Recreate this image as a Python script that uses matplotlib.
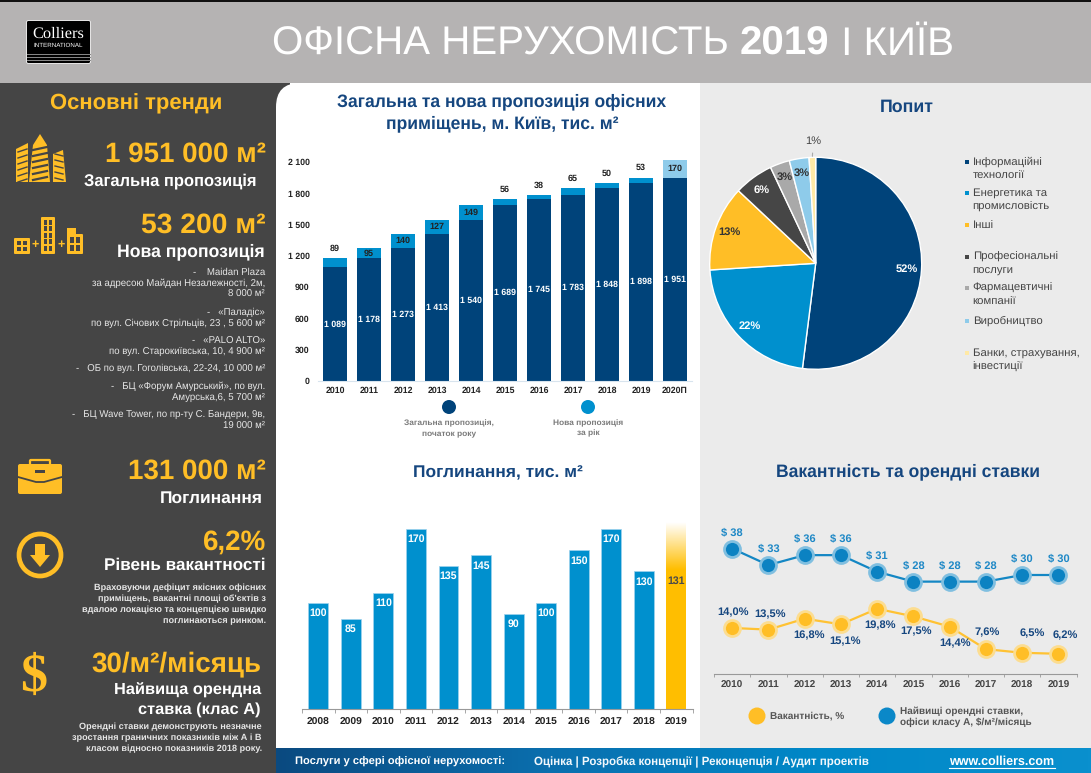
import numpy as np
import matplotlib
matplotlib.use("Agg")
import matplotlib.pyplot as plt
from matplotlib.colors import LinearSegmentedColormap
from matplotlib.patches import Rectangle, Circle, Polygon, FancyBboxPatch

W, H = 1091, 773

NAVY = "#00437A"
BLUE = "#0090CE"
LIGHT_BLUE = "#8ECBEA"
YELLOW = "#FFBE26"
DARK = "#454545"
TITLE = "#15467F"

# supply chart
supply_years = ["2010", "2011", "2012", "2013", "2014", "2015", "2016", "2017", "2018", "2019", "2020П"]
supply_total = [1089, 1178, 1273, 1413, 1540, 1689, 1745, 1783, 1848, 1898, 1951]
supply_new = [89, 95, 140, 127, 149, 56, 38, 65, 50, 53, 170]
supply_ticks = [0, 300, 600, 900, 1200, 1500, 1800, 2100]
supply_ticklabels = ["0", "300", "600", "900", "1 200", "1 500", "1 800", "2 100"]

# demand pie
demand_labels = ["Інформаційні\nтехнології", "Енергетика та\nпромисловість", "Інші",
                 "Професіональні\nпослуги", "Фармацевтичні\nкомпанії", "Виробництво",
                 "Банки, страхування,\nінвестиції"]
demand_share = [52, 22, 13, 6, 3, 3, 1]
demand_colors = [NAVY, BLUE, YELLOW, "#464646", "#A9A9A9", LIGHT_BLUE, "#FFE9A6"]
demand_text = ["white", "white", "#333333", "white", "#333333", "#333333", "#333333"]

# absorption
absorb_years = ["2008", "2009", "2010", "2011", "2012", "2013", "2014", "2015", "2016", "2017", "2018", "2019"]
absorb_values = [100, 85, 110, 170, 135, 145, 90, 100, 150, 170, 130, 131]

# vacancy and rents
rate_years = ["2010", "2011", "2012", "2013", "2014", "2015", "2016", "2017", "2018", "2019"]
vacancy = [14.0, 13.5, 16.8, 15.1, 19.8, 17.5, 14.4, 7.6, 6.5, 6.2]
rent = [38, 33, 36, 36, 31, 28, 28, 28, 30, 30]

plt.rcParams["font.family"] = ["Liberation Sans", "DejaVu Sans"]
plt.rcParams["text.hinting"] = "no_hinting"

fig = plt.figure(figsize=(W / 100, H / 100), dpi=100)


def px_axes(x0, y0, x1, y1):
    ax = fig.add_axes([x0 / W, 1 - y1 / H, (x1 - x0) / W, (y1 - y0) / H])
    ax.patch.set_alpha(0)
    return ax


# full page layer in pixel coordinates, y going down
bg = fig.add_axes([0, 0, 1, 1], zorder=0)
bg.set_xlim(0, W)
bg.set_ylim(H, 0)
bg.axis("off")

bg.add_patch(Rectangle((0, 0), W, 83, color="#B5B3B3", lw=0))
bg.add_patch(Rectangle((0, 0), W, 2, color="#111111", lw=0))
bg.add_patch(Rectangle((0, 83), 290, H - 83, color=DARK, lw=0))
bg.add_patch(Rectangle((700, 83), W - 700, 670, color="#EBEBEB", lw=0))
bg.add_patch(FancyBboxPatch((276 + 24, 83 + 24), 410, 660, boxstyle="round,pad=24,rounding_size=24",
                            fc="white", ec="none"))
bg.add_patch(Rectangle((700, 83), W - 700, 670, color="#EBEBEB", lw=0))

footer_cmap = LinearSegmentedColormap.from_list("footer", ["#0B4A80", "#0A6FAE", "#0088C8", "#0A90CE"])
bg.imshow(np.linspace(0, 1, 256).reshape(1, -1), cmap=footer_cmap, extent=(276, W, H, 748), aspect="auto", zorder=2)
bg.set_xlim(0, W)
bg.set_ylim(H, 0)


def label(x, y, s, size, color="white", weight="bold", ha="right", **kw):
    return bg.text(x, y, s, fontsize=size, color=color, fontweight=weight, ha=ha, va="center", zorder=5, **kw)


# logo
bg.add_patch(FancyBboxPatch((27, 21), 63, 42, boxstyle="round,pad=0.5,rounding_size=2", fc="black", ec="white", lw=0.6, zorder=3))
label(58, 34, "Colliers", 11.8, ha="center", family="Liberation Serif", weight="normal")
label(58, 45, "INTERNATIONAL", 4.5, ha="center", weight="normal")
for y in (54, 57, 60):
    bg.plot([27, 90], [y, y], color="#8a8a8a", lw=0.7, zorder=4)

# header, three runs one after another
x = 272
fig.canvas.draw()
rend = fig.canvas.get_renderer()
inv = bg.transData.inverted()
for s, w in (("ОФІСНА НЕРУХОМІСТЬ ", "normal"), ("2019", "bold"), (" І КИЇВ", "normal")):
    t = bg.text(x, 55, s.replace(" ", "\u00a0"), fontsize=29, color="white", fontweight=w, ha="left", va="baseline", zorder=5)
    box = t.get_window_extent(rend)
    x = inv.transform((box.x1, box.y0))[0]

# left column
label(136, 104, "Основні тренди", 15.8, color=YELLOW, ha="center")
label(266, 154, "1 951 000 м²", 20, color=YELLOW)
label(257, 181, "Загальна пропозиція", 11.9)
label(266, 225, "53 200 м²", 20.3, color=YELLOW)
label(265, 252, "Нова пропозиція", 12.7)

news = [(272, "-    Maidan Plaza"), (283, "за адресою Майдан Незалежності, 2м,"), (294, "8 000 м²"),
        (312, "-   «Паладіс»"), (323, "по вул. Січових Стрільців, 23 , 5 600 м²"),
        (341, "-   «PALO ALTO»"), (352, "по вул. Старокиївська, 10, 4 900 м²"),
        (368, "-   ОБ по вул. Гоголівська, 22-24, 10 000 м²"),
        (386, "-   БЦ «Форум Амурський», по вул."), (398, "Амурська,6, 5 700 м²"),
        (415, "-   БЦ Wave Tower, по пр-ту С. Бандери, 9в,"), (426, "19 000 м²")]
for y, s in news:
    label(265, y, s, 6.9, color="#E6E6E6", weight="normal")

label(266, 471, "131 000 м²", 20, color=YELLOW)
label(263, 498, "Поглинання", 12.5)
label(266, 542, "6,2%", 20, color=YELLOW)
label(266, 565, "Рівень вакантності", 12.3)
for y, s in ((588, "Враховуючи дефіцит якісних офісних"), (599, "приміщень, вакантні площі об'єктів з"),
             (610, "вдалою локацією та концепцією швидко"), (621, "поглинаються ринком.")):
    label(266, y, s, 6.6, color="#E6E6E6")
label(261, 664, "30/м²/місяць", 20, color=YELLOW)
label(261, 690, "Найвища орендна", 11.8)
label(261, 710, "ставка (клас А)", 11.8)
for y, s in ((727, "Орендні ставки демонструють незначне"), (738, "зростання граничних показників між А і В"),
             (749, "класом відносно показників 2018 року.")):
    label(262, y, s, 6.6, color="#E6E6E6")

# icons
for pts in ([(16, 182), (16, 149), (28, 143), (28, 182)], [(29, 182), (33, 145), (40, 134), (47, 145), (50, 182)],
            [(53, 182), (53, 154), (63, 150), (66, 182)]):
    bg.add_patch(Polygon(pts, fc=YELLOW, ec="none", zorder=3))
for y in np.arange(147, 180, 6):
    bg.plot([33, 47], [y + 3, y], color=DARK, lw=1.6, zorder=4)
    bg.plot([18, 27], [y + 5, y + 2], color=DARK, lw=1, zorder=4)
    if y > 150:
        bg.plot([55, 63], [y + 1, y + 3], color=DARK, lw=1, zorder=4)

for x0, y0, x1, cols, rows in ((14, 238, 30, 2, 2), (41, 217, 55, 2, 5), (67, 234, 83, 2, 2)):
    bg.add_patch(FancyBboxPatch((x0, y0), x1 - x0, 254 - y0, boxstyle="round,pad=0,rounding_size=1", fc=YELLOW, ec="none", zorder=3))
    cell = (x1 - x0 - 4) / cols
    for c in range(cols):
        for r in range(rows):
            bg.add_patch(Rectangle((x0 + 2 + c * cell + 0.7, y0 + 3 + r * (254 - y0 - 5) / rows), cell - 1.4,
                                   (254 - y0 - 5) / rows - 1.4, fc=DARK, ec="none", zorder=4))
bg.add_patch(Rectangle((67, 228), 9, 8, fc=YELLOW, ec="none", zorder=3))
label(35, 245, "+", 9, color=YELLOW, ha="center")
label(61, 245, "+", 9, color=YELLOW, ha="center")

# briefcase
bg.add_patch(FancyBboxPatch((18, 464), 44, 30, boxstyle="round,pad=0,rounding_size=2", fc=YELLOW, ec="none", zorder=3))
bg.add_patch(FancyBboxPatch((30, 460), 20, 6, boxstyle="round,pad=0,rounding_size=1", fc="none", ec=YELLOW, lw=1.6, zorder=3))
bg.plot([18, 36, 44, 62], [477, 482, 482, 477], color=DARK, lw=1.3, zorder=4)
bg.add_patch(Rectangle((35, 470), 10, 3, fc=DARK, ec="none", zorder=4))

# arrow in circle
bg.add_patch(Circle((40, 555), 21, fc="none", ec=YELLOW, lw=3.4, zorder=3))
bg.add_patch(Polygon([(35, 544), (45, 544), (45, 555), (50, 555), (40, 567), (30, 555), (35, 555)], fc=YELLOW, ec="none", zorder=3))

label(34, 678, "$", 39, color=YELLOW, ha="center", family="Liberation Serif")

# titles
label(502, 102, "Загальна та нова пропозиція офісних", 12.65, color=TITLE, ha="center")
label(502, 124, "приміщень, м. Київ, тис. м²", 12.65, color=TITLE, ha="center")
label(907, 107, "Попит", 12.8, color=TITLE, ha="center")
label(498, 473, "Поглинання, тис. м²", 12.5, color=TITLE, ha="center")
label(908, 472, "Вакантність та орендні ставки", 12.65, color=TITLE, ha="center")

# supply chart
ax1 = px_axes(318, 130, 692, 381)
xs = np.arange(len(supply_years))
ax1.bar(xs, supply_total, width=0.72, color=NAVY)
new_colors = [BLUE] * (len(xs) - 1) + [LIGHT_BLUE]
ax1.bar(xs, supply_new, width=0.72, bottom=supply_total, color=new_colors)
ax1.set_xlim(-0.5, 10.5)
ax1.set_ylim(0, 251 / 219 * 2100)
ax1.set_yticks(supply_ticks, supply_ticklabels)
ax1.set_xticks(xs, supply_years)
ax1.tick_params(length=0, labelsize=6.3, pad=4, labelcolor="#222222")
ax1.tick_params(axis="y", pad=6)
for t in ax1.get_xticklabels() + ax1.get_yticklabels():
    t.set_fontweight("bold")
for s in ("top", "left", "right"):
    ax1.spines[s].set_visible(False)
ax1.spines["bottom"].set_color("#D8E4EE")
for i, (a, b) in enumerate(zip(supply_total, supply_new)):
    ax1.text(i, a / 2, f"{a:,}".replace(",", " "), color="white", fontsize=6.3, fontweight="bold", ha="center", va="center")
    if b >= 90:
        ax1.text(i, a + b / 2, str(b), color="#222222", fontsize=6.5, fontweight="bold", ha="center", va="center")
    else:
        ax1.annotate(str(b), (i, a + b), xytext=(0, 4), textcoords="offset points", color="#222222",
                     fontsize=6.5, fontweight="bold", ha="center", va="bottom")

bg.add_patch(Circle((449, 407), 7, fc=NAVY, ec="none", zorder=3))
bg.add_patch(Circle((588, 407), 7, fc=BLUE, ec="none", zorder=3))
label(449, 423, "Загальна пропозиція,", 6, color="#7a7a7a", ha="center")
label(449, 433, "початок року", 6, color="#7a7a7a", ha="center")
label(588, 423, "Нова пропозиція", 6, color="#7a7a7a", ha="center")
label(588, 433, "за рік", 6, color="#7a7a7a", ha="center")

# pie
cx, cy, r = 815.7, 263.3, 106
ax2 = px_axes(cx - r, cy - r, cx + r, cy + r)
wedges, _, autotexts = ax2.pie(demand_share, colors=demand_colors, startangle=90, counterclock=False, radius=1,
                               autopct="%.0f%%", pctdistance=0.86, wedgeprops={"edgecolor": "white", "linewidth": 1},
                               textprops={"fontsize": 8, "fontweight": "bold"})
ax2.set_xlim(-1, 1)
ax2.set_ylim(-1, 1)
for t, c in zip(autotexts, demand_text):
    t.set_color(c)
last = wedges[-1]
ang = np.deg2rad((last.theta1 + last.theta2) / 2)
autotexts[-1].set_visible(False)
ax2.annotate(f"{demand_share[-1]}%", (np.cos(ang), np.sin(ang) + 0.01), xytext=(np.cos(ang) + 0.01, 1.154), ha="center", va="center",
             fontsize=8, color="#444444", annotation_clip=False,
             arrowprops={"arrowstyle": "-", "color": "#AAAAAA", "lw": 0.8, "shrinkA": 3, "shrinkB": 0})

legend_y = [161.7, 193, 225, 257, 288, 320.7, 352.7]
for lab, c, y in zip(demand_labels, demand_colors, legend_y):
    bg.add_patch(Rectangle((964.7, y - 2), 4, 4, fc=c, ec="none", zorder=3))
    for j, line in enumerate(lab.split("\n")):
        label(972.7, y + j * 14, line, 8.2, color="#444444", weight="normal", ha="left")

# absorption
ax3 = px_axes(302, 510, 692.6, 709)
xs = np.arange(len(absorb_years))
bar_w = 0.61
ax3.bar(xs[:-1], absorb_values[:-1], width=bar_w, color=BLUE, edgecolor="#9FD3EE", linewidth=0.5)
ax3.bar(xs[-1], absorb_values[-1], width=bar_w, color="#FFBE00")
fade = LinearSegmentedColormap.from_list("fade", ["white", "#FFBE00"])
ax3.imshow(np.linspace(0, 1, 64).reshape(-1, 1), cmap=fade, aspect="auto", origin="upper", zorder=2,
           extent=(xs[-1] - bar_w / 2, xs[-1] + bar_w / 2, absorb_values[-1], 176))
ax3.set_xlim(-0.5, 11.5)
ax3.set_ylim(0, 199 / 180 * 170)
ax3.set_yticks([])
ax3.set_xticks(xs, absorb_years)
ax3.set_xticks(np.arange(-0.5, 12), minor=True)
ax3.tick_params(axis="x", which="major", length=0, labelsize=7.4, pad=6, labelcolor="#222222")
ax3.tick_params(axis="x", which="minor", length=3, color="#999999", direction="out")
for t in ax3.get_xticklabels():
    t.set_fontweight("bold")
for s in ("top", "left", "right"):
    ax3.spines[s].set_visible(False)
ax3.spines["bottom"].set_color("#999999")
for i, v in enumerate(absorb_values):
    ax3.annotate(str(v), (i, v), xytext=(0, -7.5), textcoords="offset points", ha="center", va="center", fontsize=7.6,
                 fontweight="bold", color="white" if i < len(absorb_values) - 1 else "#4a4a4a", zorder=4)

# vacancy and rents
ax4 = px_axes(714, 530, 1076.5, 674.3)
xs = np.arange(len(rate_years))
ax4.plot(xs, rent, color="#1487C4", lw=1.6, marker="o", ms=11.5, mfc="#0B82C2", mec="#80BFE0", mew=2)
ax4.plot(xs, vacancy, color="#FFC233", lw=1.6, marker="o", ms=11.5, mfc=YELLOW, mec="#FCDD90", mew=2)
ax4.set_xlim(-0.5, 9.5)
ax4.set_ylim(0, 144.3 / 3.31)
ax4.set_yticks([])
ax4.set_xticks(xs, rate_years)
ax4.set_xticks(np.arange(-0.5, 10), minor=True)
ax4.tick_params(axis="x", which="major", length=0, labelsize=7.2, pad=4.5, labelcolor="#444444")
ax4.tick_params(axis="x", which="minor", length=2.5, color="#999999")
for t in ax4.get_xticklabels():
    t.set_fontweight("bold")
for s in ("top", "left", "right"):
    ax4.spines[s].set_visible(False)
ax4.spines["bottom"].set_color("#999999")
for i, v in enumerate(rent):
    ax4.annotate(f"$ {v}", (i, v), xytext=(0, 12), textcoords="offset points", ha="center", va="center", fontsize=8,
                 fontweight="bold", color="#1E88C6")
vac_dx = [1, 1, 3, 3, 2, 2, 4, 1, 7, 5]
vac_dy = [11, 11, -12, -12, -12, -11, -12, 12, 14, 13]
for i, v in enumerate(vacancy):
    ax4.annotate(f"{v:.1f}%".replace(".", ","), (i, v), xytext=(vac_dx[i], vac_dy[i]), textcoords="offset points", ha="center",
                 va="center", fontsize=8, fontweight="bold", color=TITLE)

bg.add_patch(Circle((757, 716), 8.5, fc=YELLOW, ec="none", zorder=3))
bg.add_patch(Circle((887, 716), 8.5, fc="#0B88C8", ec="none", zorder=3))
label(770, 716, "Вакантність, %", 7.2, color="#555555", ha="left")
label(900, 711, "Найвищі орендні ставки,", 7.2, color="#555555", ha="left")
label(900, 722, "офіси класу А, $/м²/місяць", 7.2, color="#555555", ha="left")

# footer
label(295, 762, "Послуги у сфері офісної нерухомості:", 8, ha="left")
label(534, 762, "Оцінка | Розробка концепції | Реконцепція / Аудит проектів", 8.3, ha="left", color="#F2F8FC")
label(949, 762, "www.colliers.com", 9, ha="left")
bg.plot([949, 1055], [768, 768], color="white", lw=0.8, zorder=5)

fig.savefig("out.png", dpi=100)
